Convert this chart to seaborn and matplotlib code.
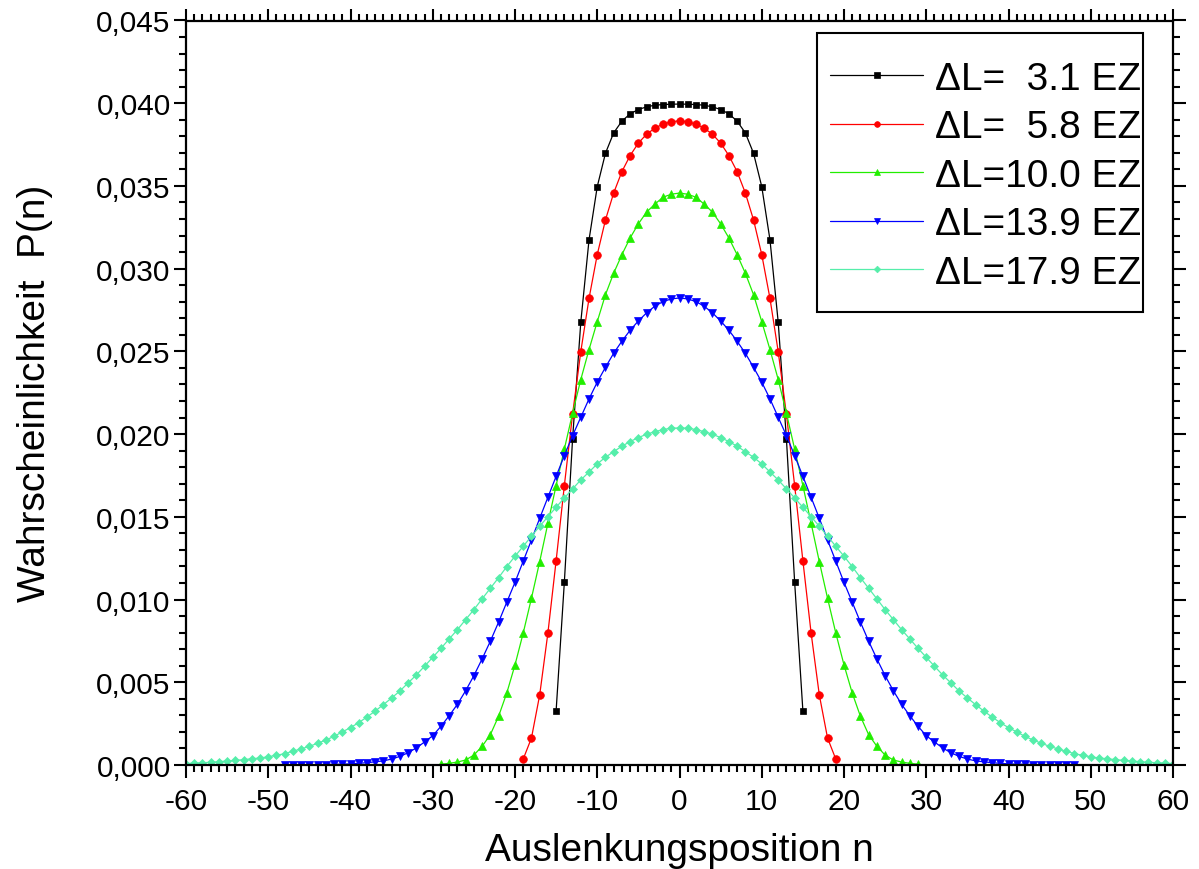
import numpy as np
import pandas as pd
import matplotlib
matplotlib.use("Agg")
import matplotlib.pyplot as plt
import seaborn as sns
from matplotlib.ticker import MultipleLocator, FuncFormatter
from matplotlib.patches import Rectangle

# ---------------- data ----------------
n_31 = list(range(-15, 16))
p_31 = [0.00328, 0.01105, 0.01971, 0.02677, 0.03174, 0.03496, 0.03698, 0.03821,
        0.03892, 0.03936, 0.03962, 0.03978, 0.03988, 0.03992, 0.03994, 0.03995,
        0.03994, 0.03992, 0.03988, 0.03978, 0.03962, 0.03936, 0.03892, 0.03821,
        0.03698, 0.03496, 0.03174, 0.02677, 0.01971, 0.01105, 0.00328]

n_58 = list(range(-19, 20))
p_58 = [0.00036, 0.00163, 0.00423, 0.00798, 0.01235, 0.01689, 0.02120, 0.02499,
        0.02820, 0.03085, 0.03295, 0.03458, 0.03587, 0.03684, 0.03759, 0.03813,
        0.03849, 0.03874, 0.03888, 0.03894,
        0.03888, 0.03874, 0.03849, 0.03813, 0.03759, 0.03684, 0.03587, 0.03458,
        0.03295, 0.03085, 0.02820, 0.02499, 0.02120, 0.01689, 0.01235, 0.00798,
        0.00423, 0.00163, 0.00036]

n_100 = list(range(-29, 30))
p_100 = [0.00005, 0.00010, 0.00018, 0.00030, 0.00060, 0.00113, 0.00183, 0.00294,
         0.00435, 0.00605, 0.00798, 0.01008, 0.01229, 0.01461, 0.01689, 0.01910,
         0.02126, 0.02330, 0.02511, 0.02680, 0.02843, 0.02973, 0.03085, 0.03186,
         0.03271, 0.03342, 0.03390, 0.03432, 0.03450, 0.03457,
         0.03450, 0.03432, 0.03390, 0.03342, 0.03271, 0.03186, 0.03085, 0.02973,
         0.02843, 0.02680, 0.02511, 0.02330, 0.02126, 0.01910, 0.01689, 0.01461,
         0.01229, 0.01008, 0.00798, 0.00605, 0.00435, 0.00294, 0.00183, 0.00113,
         0.00060, 0.00030, 0.00018, 0.00010, 0.00005]

n_139 = list(range(-48, 49))
p_139 = [0.00001, 0.00001, 0.00001, 0.00002, 0.00002, 0.00003, 0.00004, 0.00005,
         0.00007, 0.00010, 0.00014, 0.00019, 0.00025, 0.00036, 0.00052, 0.00074,
         0.00103, 0.00139, 0.00177, 0.00234, 0.00298, 0.00367, 0.00449, 0.00540,
         0.00641, 0.00748, 0.00863, 0.00984, 0.01104, 0.01232, 0.01360, 0.01491,
         0.01618, 0.01745, 0.01870, 0.01991, 0.02102, 0.02213, 0.02314, 0.02404,
         0.02489, 0.02562, 0.02628, 0.02684, 0.02733, 0.02773, 0.02801, 0.02817,
         0.02823,
         0.02817, 0.02801, 0.02773, 0.02733, 0.02684, 0.02628, 0.02562, 0.02489,
         0.02404, 0.02314, 0.02213, 0.02102, 0.01991, 0.01870, 0.01745, 0.01618,
         0.01491, 0.01360, 0.01232, 0.01104, 0.00984, 0.00863, 0.00748, 0.00641,
         0.00540, 0.00449, 0.00367, 0.00298, 0.00234, 0.00177, 0.00139, 0.00103,
         0.00074, 0.00052, 0.00036, 0.00025, 0.00019, 0.00014, 0.00010, 0.00007,
         0.00005, 0.00004, 0.00003, 0.00002, 0.00002, 0.00001, 0.00001, 0.00001]

n_179 = list(range(-60, 61))
p_179 = [0.00008, 0.00012, 0.00014, 0.00016, 0.00020, 0.00024, 0.00028, 0.00032,
         0.00038, 0.00042, 0.00050, 0.00058, 0.00069, 0.00083, 0.00097, 0.00113,
         0.00131, 0.00151, 0.00173, 0.00200, 0.00226, 0.00256, 0.00290, 0.00326,
         0.00365, 0.00405, 0.00447, 0.00496, 0.00544, 0.00597, 0.00651, 0.00705,
         0.00762, 0.00818, 0.00879, 0.00939, 0.01004, 0.01068, 0.01132, 0.01199,
         0.01262, 0.01322, 0.01383, 0.01443, 0.01501, 0.01558, 0.01614, 0.01669,
         0.01723, 0.01771, 0.01820, 0.01860, 0.01894, 0.01927, 0.01955, 0.01979,
         0.01999, 0.02015, 0.02027, 0.02036, 0.02037,
         0.02036, 0.02027, 0.02015, 0.01999, 0.01979, 0.01955, 0.01927, 0.01894,
         0.01860, 0.01820, 0.01771, 0.01723, 0.01669, 0.01614, 0.01558, 0.01501,
         0.01443, 0.01383, 0.01322, 0.01262, 0.01199, 0.01132, 0.01068, 0.01004,
         0.00939, 0.00879, 0.00818, 0.00762, 0.00705, 0.00651, 0.00597, 0.00544,
         0.00496, 0.00447, 0.00405, 0.00365, 0.00326, 0.00290, 0.00256, 0.00226,
         0.00200, 0.00173, 0.00151, 0.00131, 0.00113, 0.00097, 0.00083, 0.00069,
         0.00058, 0.00050, 0.00042, 0.00038, 0.00032, 0.00028, 0.00024, 0.00020,
         0.00016, 0.00014, 0.00012, 0.00008]

labels = ["\u0394L=  3.1 EZ", "\u0394L=  5.8 EZ", "\u0394L=10.0 EZ",
          "\u0394L=13.9 EZ", "\u0394L=17.9 EZ"]

# ---------------- style ----------------
sns.set_theme(style="white")
plt.rcParams["font.family"] = ["Liberation Sans", "DejaVu Sans"]
plt.rcParams["axes.unicode_minus"] = False

series = [
    (n_31, p_31, labels[0], "black", "s", 5.0),
    (n_58, p_58, labels[1], "#ff0000", "o", 5.5),
    (n_100, p_100, labels[2], "#22ee00", "^", 6.0),
    (n_139, p_139, labels[3], "#0000ff", "v", 6.0),
    (n_179, p_179, labels[4], "#55eeaa", "D", 4.5),
]

fig = plt.figure(figsize=(11.99, 8.70), dpi=100)
ax = fig.add_axes([186 / 1199, 1 - 766 / 870, 987 / 1199, (766 - 21.5) / 870])

for xs, ys, lab, col, mk, ms in series:
    df = pd.DataFrame({"n": xs, "P": ys})
    sns.lineplot(data=df, x="n", y="P", ax=ax, color=col, marker=mk,
                 markersize=ms, markeredgecolor=col, markeredgewidth=0.5,
                 linewidth=0.9, label=lab, estimator=None, sort=False)

ax.set_xlim(-60, 60)
ax.set_ylim(0, 0.045)
ax.xaxis.set_major_locator(MultipleLocator(10))
ax.xaxis.set_minor_locator(MultipleLocator(1))
ax.yaxis.set_major_locator(MultipleLocator(0.005))
ax.yaxis.set_minor_locator(MultipleLocator(0.001))
ax.yaxis.set_major_formatter(FuncFormatter(lambda v, p: f"{v:.3f}".replace(".", ",")))
ax.xaxis.set_major_formatter(FuncFormatter(lambda v, p: f"{v:.0f}"))

for sp in ax.spines.values():
    sp.set_visible(True)
    sp.set_color("black")
    sp.set_linewidth(1.6)

ax.tick_params(which="both", direction="out", top=True, right=True,
               bottom=True, left=True, color="black", width=1.5)
ax.tick_params(which="major", length=9, labelsize=21.5, pad=2, colors="black")
ax.tick_params(which="minor", length=5)
ax.tick_params(axis="x", which="major", pad=7)
ax.tick_params(labeltop=False, labelright=False)

ax.set_xlabel("Auslenkungsposition n", fontsize=28, labelpad=12, color="black")
ax.set_ylabel("Wahrscheinlichkeit  P(n)", fontsize=28, labelpad=31, color="black")

leg = ax.legend(loc="upper left", bbox_to_anchor=((830 - 186) / 987, (766 - 62) / 744.5),
                frameon=False, fontsize=28, handlelength=2.4, numpoints=1,
                markerscale=0.75, borderpad=0, labelspacing=0.32,
                handletextpad=0.3, borderaxespad=0)
for t in leg.get_texts():
    t.set_color("black")

ax.add_patch(Rectangle(((817 - 186) / 987, (766 - 313) / 744.5),
                       (1143 - 817) / 987, (313 - 34) / 744.5,
                       transform=ax.transAxes, fill=False, edgecolor="black",
                       linewidth=1.5, zorder=5))

fig.savefig("out.png", dpi=100, facecolor="white")
